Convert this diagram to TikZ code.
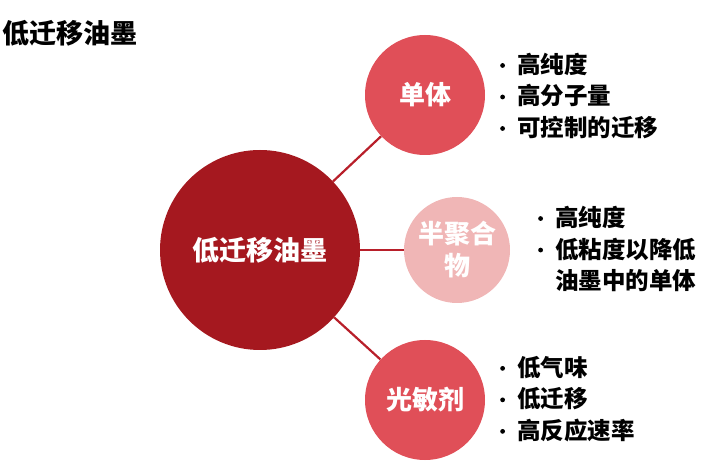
\documentclass[tikz,border=0pt]{standalone}
\usepackage{fontspec}
\newfontfamily\cjk{Noto Sans CJK SC}
\usetikzlibrary{positioning}

\definecolor{inkred}{HTML}{A5181F}
\definecolor{partred}{HTML}{E04F58}
\definecolor{partpink}{HTML}{F0B6B6}
\definecolor{linkred}{HTML}{B81F2A}

\newcommand{\bul}{\makebox[17pt][l]{\tikz[baseline=0pt]\fill (3pt,8pt) circle[radius=2.4pt];}}

\begin{document}
\begin{tikzpicture}[
  x=1pt, y=-1pt,
  hub/.style={circle, fill=inkred, minimum size=200pt, inner sep=0pt, text=white, font=\cjk\bfseries\fontsize{27}{30}\selectfont},
  part/.style={circle, fill=partred, minimum size=120pt, inner sep=0pt, text=white, font=\cjk\bfseries\fontsize{26}{30}\selectfont},
  softpart/.style={circle, fill=partpink, minimum size=106pt, inner sep=0pt, text=white, align=center, font=\cjk\bfseries\fontsize{26}{32}\selectfont},
  link/.style={draw=linkred, line width=2.2pt},
  points/.style={anchor=west, inner sep=0pt, align=left, font=\cjk\bfseries\fontsize{23.5}{31.5}\selectfont},
]
\useasboundingbox (0,0) rectangle (710,462);

% title
\node[anchor=west, inner sep=0pt, font=\cjk\bfseries\fontsize{27}{30}\selectfont] (title) at (2,33) {低迁移油墨};

% circles
\node[hub] (ink) at (260,250) {低迁移油墨};
\node[part] (mono) at (425,95) {单体};
\node[softpart] (oligo) at (457,250) {半聚合\\物};
\node[part] (photo) at (425,400) {光敏剂};

% links
\draw[link] (ink) -- (mono);
\draw[link] (ink) -- (oligo);
\draw[link] (ink) -- (photo);

% bullet lists
\node[points] (monopts) at (500,96) {\bul 高纯度\\\bul 高分子量\\\bul 可控制的迁移};
\node[points] (oligopts) at (538,249) {\bul 高纯度\\\bul 低粘度以降低\\\hspace{17pt}油墨中的单体};
\node[points] (photopts) at (500,399) {\bul 低气味\\\bul 低迁移\\\bul 高反应速率};

\end{tikzpicture}
\end{document}
